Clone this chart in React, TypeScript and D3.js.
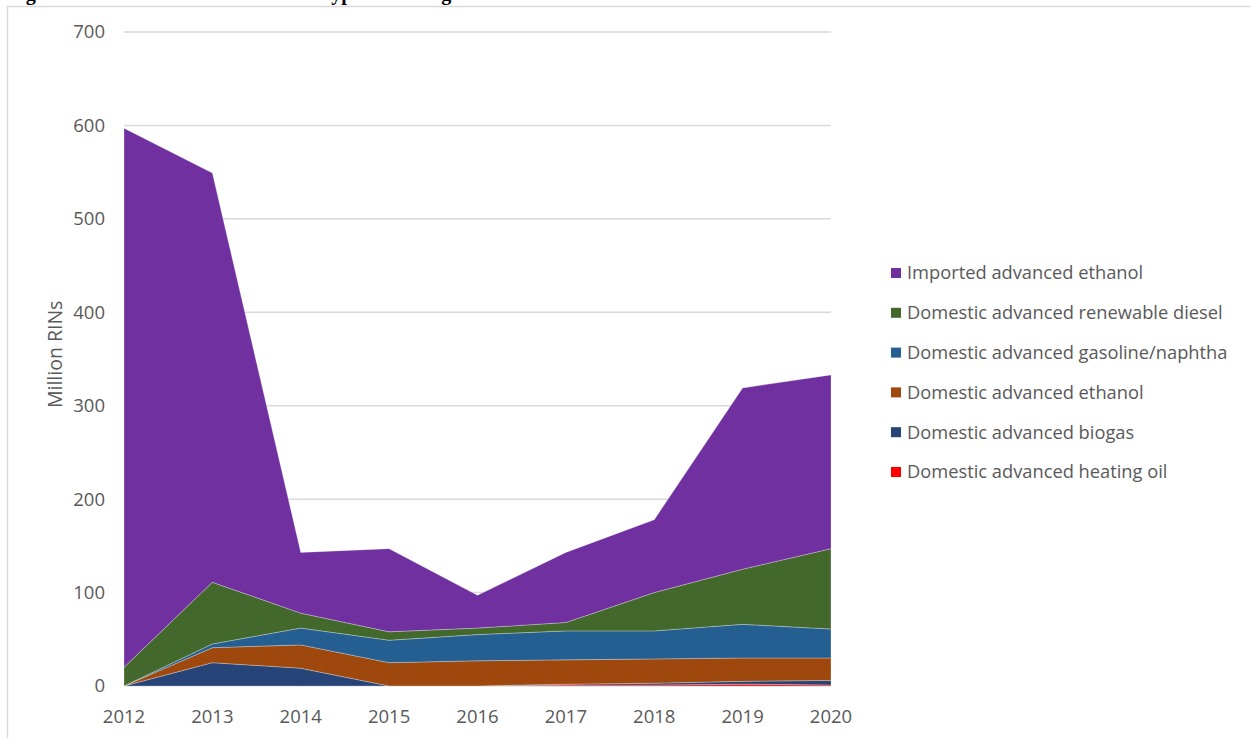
import React, { useEffect, useMemo } from 'react';
import * as d3 from 'd3';

// years on the x axis
const years = [2012, 2013, 2014, 2015, 2016, 2017, 2018, 2019, 2020];

// million RINs per category, bottom of the stack first
const heatingOil = [0, 0, 0, 0, 0, 1, 1, 2, 1];
const biogas = [0, 25, 19, 0, 0, 1, 2, 3, 5];
const domEthanol = [0, 16, 25, 25, 27, 26, 26, 25, 24];
const gasolineNaphtha = [0, 4, 18, 24, 28, 31, 30, 36, 31];
const renewableDiesel = [20, 66, 16, 9, 7, 9, 41, 59, 86];
const importedEthanol = [577, 438, 65, 89, 35, 75, 78, 194, 186];

const yTicks = [0, 100, 200, 300, 400, 500, 600, 700];

const seriesKeys = ['heating', 'biogas', 'ethanol', 'gasoline', 'diesel', 'imported'];
const seriesLabels: Record<string, string> = {
  imported: 'Imported advanced ethanol',
  diesel: 'Domestic advanced renewable diesel',
  gasoline: 'Domestic advanced gasoline/naphtha',
  ethanol: 'Domestic advanced ethanol',
  biogas: 'Domestic advanced biogas',
  heating: 'Domestic advanced heating oil',
};
const seriesColors: Record<string, string> = {
  imported: '#7030a0',
  diesel: '#43682b',
  gasoline: '#255e91',
  ethanol: '#9e480e',
  biogas: '#264478',
  heating: '#ff0000',
};
const legendOrder = ['imported', 'diesel', 'gasoline', 'ethanol', 'biogas', 'heating'];

const W = 1250;
const H = 738;
const FONT = '"Open Sans", "Liberation Sans", sans-serif';
const TXT = '#595959';

const App: React.FC = () => {
  useEffect(() => {
    document.body.style.margin = '0';
  }, []);

  const x = d3.scaleLinear().domain([2012, 2020]).range([124, 831]);
  const y = d3.scaleLinear().domain([0, 700]).range([686, 32]);

  const table = useMemo(
    () =>
      years.map((yr, i) => ({
        year: yr,
        heating: heatingOil[i],
        biogas: biogas[i],
        ethanol: domEthanol[i],
        gasoline: gasolineNaphtha[i],
        diesel: renewableDiesel[i],
        imported: importedEthanol[i],
      })),
    []
  );

  const stacked = d3.stack<any>().keys(seriesKeys)(table);
  const area = d3
    .area<any>()
    .x((d) => x(d.data.year))
    .y0((d) => y(d[0]))
    .y1((d) => y(d[1]));

  return (
    <svg width={W} height={H} style={{ display: 'block', background: '#fff' }}>
      {/* title of the source figure, cropped by the page edge as in the original */}
      <text
        x={8}
        y={0}
        fontFamily='"Liberation Serif", "Times New Roman", serif'
        fontWeight="bold"
        fontSize={20}
        fill="#000"
      >
        Figure 2.2-3: Advanced Biofuel RIN Types and Origin
      </text>

      {/* chart frame */}
      <rect x={7.5} y={6.5} width={1260} height={760} fill="#fff" stroke="#d9d9d9" strokeWidth={1.5} />

      {/* gridlines */}
      {yTicks.map((t) => (
        <line key={t} x1={124} x2={831} y1={y(t)} y2={y(t)} stroke="#d9d9d9" strokeWidth={1.5} />
      ))}

      {/* stacked areas */}
      {stacked.map((s) => (
        <path
          key={s.key}
          d={area(s) || ''}
          fill={seriesColors[s.key]}
          stroke="#ffffff"
          strokeOpacity={0.35}
          strokeWidth={0.8}
        />
      ))}

      {/* y ticks */}
      {yTicks.map((t) => (
        <text
          key={t}
          x={105}
          y={y(t)}
          dy="0.35em"
          textAnchor="end"
          fontFamily={FONT}
          fontSize={18.5}
          fill={TXT}
        >
          {t}
        </text>
      ))}

      {/* x ticks */}
      {years.map((yr) => (
        <text
          key={yr}
          x={x(yr)}
          y={723}
          textAnchor="middle"
          fontFamily={FONT}
          fontSize={18.5}
          fill={TXT}
        >
          {yr}
        </text>
      ))}

      {/* y axis title */}
      <text
        transform={`translate(62, ${y(355)}) rotate(-90)`}
        textAnchor="middle"
        fontFamily={FONT}
        fontSize={19.5}
        fill={TXT}
      >
        Million RINs
      </text>

      {/* legend */}
      {legendOrder.map((k, i) => {
        const cy = 273 + i * 39.8;
        return (
          <g key={k}>
            <rect x={891} y={cy - 5} width={10} height={10} fill={seriesColors[k]} />
            <text x={907} y={cy} dy="0.35em" fontFamily={FONT} fontSize={18.3} fill={TXT}>
              {seriesLabels[k]}
            </text>
          </g>
        );
      })}
    </svg>
  );
};

export default App;
